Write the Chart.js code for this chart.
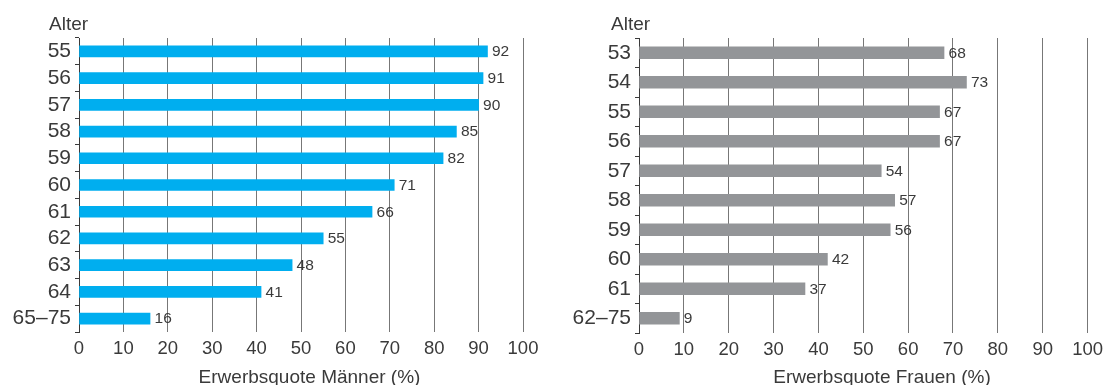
<!DOCTYPE html>
<html><head><meta charset="utf-8">
<script src="https://cdn.jsdelivr.net/npm/chart.js@4/dist/chart.umd.min.js"></script>
<style>
html,body{margin:0;padding:0;background:#fff;}
#wrap{position:relative;width:1109px;height:385px;overflow:hidden;background:#fff;}
.box{position:absolute;top:0;height:385px;}
canvas{display:block;}
</style></head><body>
<div id="wrap">
<div class="box" style="left:0;width:560px"><canvas id="c1" width="560" height="385"></canvas></div>
<div class="box" style="left:560px;width:549px"><canvas id="c2" width="549" height="385"></canvas></div>
</div>
<script>
// ---- data ----
const menAges = ['55','56','57','58','59','60','61','62','63','64','65–75'];
const menRates = [92, 91, 90, 85, 82, 71, 66, 55, 48, 41, 16];
const womenAges = ['53','54','55','56','57','58','59','60','61','62–75'];
const womenRates = [68, 73, 67, 67, 54, 57, 56, 42, 37, 9];
const xTickValues = [0, 10, 20, 30, 40, 50, 60, 70, 80, 90, 100];
const yAxisLabel = 'Alter';
const menAxisTitle = 'Erwerbsquote Männer (%)';
const womenAxisTitle = 'Erwerbsquote Frauen (%)';

const FONT = '"Liberation Sans", Arial, sans-serif';
const TEXT = '#3a3a3a';

function overlay(title, cfg) {
  return {
    id: 'overlay',
    afterDraw(chart) {
      const ctx = chart.ctx;
      const meta = chart.getDatasetMeta(0);
      const data = chart.data.datasets[0].data;
      const area = chart.chartArea;
      ctx.save();
      ctx.fillStyle = TEXT;
      // value labels
      ctx.font = '15.5px ' + FONT;
      ctx.textBaseline = 'middle';
      ctx.textAlign = 'left';
      meta.data.forEach((bar, i) => {
        ctx.fillText(String(data[i]), bar.x + 4.5, bar.y + 0.5);
      });
      // "Alter" label above the category axis
      ctx.font = '19px ' + FONT;
      ctx.textBaseline = 'alphabetic';
      ctx.fillText(yAxisLabel, area.left - cfg.titleDx, 30);
      // x axis title
      ctx.textAlign = 'center';
      ctx.fillText(title, area.left + cfg.xTitleDx, 382.5);
      ctx.restore();
    }
  };
}

function makeChart(id, labels, values, color, title, cfg) {
  return new Chart(document.getElementById(id), {
    type: 'bar',
    data: { labels: labels, datasets: [{ data: values, backgroundColor: color, barThickness: cfg.bar, borderWidth: 0 }] },
    options: {
      indexAxis: 'y', responsive: false, animation: false, devicePixelRatio: 1,
      layout: { padding: { left: 0, top: cfg.top, right: cfg.right, bottom: 0 } },
      plugins: { legend: { display: false }, tooltip: { enabled: false }, title: { display: false } },
      scales: {
        x: {
          min: 0, max: 100,
          afterBuildTicks: s => { s.ticks = xTickValues.map(v => ({ value: v })); },
          grid: { color: '#777777', lineWidth: 1, drawTicks: false },
          border: { display: false },
          ticks: { color: TEXT, font: { family: FONT, size: 18.5 }, padding: 6, maxRotation: 0, autoSkip: false },
          title: { display: false, text: title },
          afterFit: s => { s.height = cfg.xh; }
        },
        y: {
          grid: { offset: true, drawOnChartArea: false, drawTicks: true, tickLength: 4, color: TEXT, lineWidth: 1 },
          border: { display: true, color: TEXT, width: 1 },
          ticks: { color: TEXT, font: { family: FONT, size: 21 }, padding: 4, autoSkip: false },
          afterFit: s => { s.width = cfg.yw; }
        }
      }
    },
    plugins: [overlay(title, cfg)]
  });
}

makeChart('c1', menAges, menRates, '#00AEEF', menAxisTitle,
  { bar: 11, top: 38, right: 37, xh: 53, yw: 79, titleDx: 30, xTitleDx: 230.5 });
makeChart('c2', womenAges, womenRates, '#939598', womenAxisTitle,
  { bar: 12, top: 38, right: 17, xh: 52, yw: 79, titleDx: 28, xTitleDx: 243 });
</script>
</body></html>
